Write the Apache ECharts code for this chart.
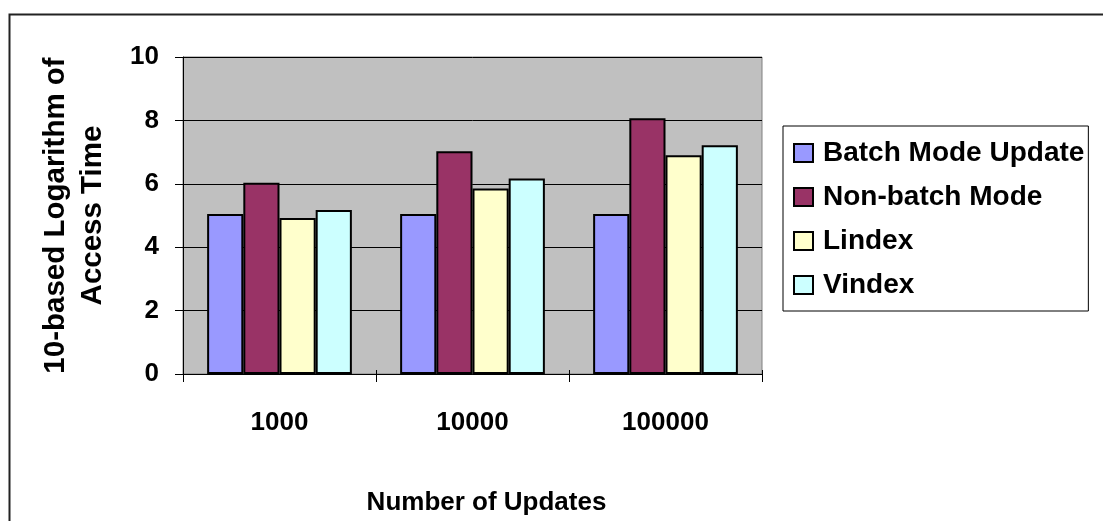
<!DOCTYPE html>
<html>
<head>
<meta charset="utf-8">
<script src="https://cdn.jsdelivr.net/npm/echarts@6/dist/echarts.min.js"></script>
<style>
  html, body { margin: 0; padding: 0; background: #fff; }
  #chart { width: 1103px; height: 521px; }
</style>
</head>
<body>
<div id="chart"></div>
<script>
// Number of updates per run
const categories = ['1000', '10000', '100000'];

// log10 of access time for each method
const batchMode = [5.05, 5.05, 5.05];
const nonBatchMode = [6.03, 7.03, 8.07];
const lindex = [4.92, 5.85, 6.90];
const vindex = [5.17, 6.17, 7.22];

const yTicks = { min: 0, max: 10, interval: 2 };

const FONT = '"Liberation Sans", Arial, sans-serif';

const chart = echarts.init(document.getElementById('chart'), null, { renderer: 'canvas' });

function barSeries(name, data, color) {
  return {
    name: name,
    type: 'bar',
    data: data,
    barGap: '0%',
    barCategoryGap: '25%',
    itemStyle: { color: color, borderColor: '#000', borderWidth: 2 },
    emphasis: { disabled: true }
  };
}

chart.setOption({
  animation: false,
  backgroundColor: '#fff',
  textStyle: { fontFamily: FONT, fontWeight: 'bold', color: '#000' },
  graphic: [{
    type: 'rect',
    left: 7, top: 12,
    shape: { width: 1110, height: 520 },
    style: { fill: 'none', stroke: '#222', lineWidth: 2 },
    silent: true
  }],
  grid: {
    left: 183, right: 341, top: 57, bottom: 147,
    show: true,
    backgroundColor: '#C0C0C0',
    borderColor: '#808080',
    borderWidth: 1
  },
  legend: {
    orient: 'vertical',
    left: 783, top: 126,
    padding: [13, 4, 12, 10],
    icon: 'rect',
    itemWidth: 19, itemHeight: 18,
    itemGap: 16,
    borderColor: '#000', borderWidth: 1,
    backgroundColor: '#fff',
    selectedMode: false,
    textStyle: { fontFamily: FONT, fontWeight: 'bold', fontSize: 28, color: '#000', lineHeight: 28, padding: [0, 0, 0, 5] },
    data: ['Batch Mode Update', 'Non-batch Mode', 'Lindex', 'Vindex']
  },
  xAxis: [{
    type: 'category',
    data: categories,
    name: 'Number of Updates',
    nameLocation: 'middle',
    nameGap: 116,
    nameTextStyle: { fontFamily: FONT, fontWeight: 'bold', fontSize: 26, color: '#000', padding: [0, 0, 0, 28] },
    axisLine: { lineStyle: { color: '#000', width: 1 } },
    axisTick: { show: true, length: 8, lineStyle: { color: '#000' } },
    axisLabel: { margin: 36, fontFamily: FONT, fontWeight: 'bold', fontSize: 26, color: '#000' },
    splitLine: { show: false }
  }, {
    // inner half of the crossing category ticks
    type: 'category',
    data: categories,
    position: 'bottom',
    axisLine: { show: false },
    axisTick: { show: true, inside: true, length: 4, lineStyle: { color: '#000' } },
    axisLabel: { show: false },
    splitLine: { show: false }
  }],
  yAxis: [{
    type: 'value',
    min: yTicks.min, max: yTicks.max, interval: yTicks.interval,
    name: '10-based Logarithm of\nAccess Time',
    nameLocation: 'middle',
    nameRotate: 90,
    nameGap: 72,
    nameTextStyle: { fontFamily: FONT, fontWeight: 'bold', fontSize: 29.5, color: '#000', lineHeight: 37, align: 'center' },
    axisLine: { show: true, lineStyle: { color: '#000', width: 1 } },
    axisTick: { show: true, length: 8, lineStyle: { color: '#000' } },
    axisLabel: { margin: 24, fontFamily: FONT, fontWeight: 'bold', fontSize: 26, color: '#000' },
    splitLine: { show: true, lineStyle: { color: '#000', width: 1 } }
  }, {
    // inner half of the crossing value ticks
    type: 'value',
    position: 'left',
    min: yTicks.min, max: yTicks.max, interval: yTicks.interval,
    axisLine: { show: false },
    axisTick: { show: true, inside: true, length: 4, lineStyle: { color: '#000' } },
    axisLabel: { show: false },
    splitLine: { show: false }
  }],
  series: [
    barSeries('Batch Mode Update', batchMode, '#9999FF'),
    barSeries('Non-batch Mode', nonBatchMode, '#993366'),
    barSeries('Lindex', lindex, '#FFFFCC'),
    barSeries('Vindex', vindex, '#CCFFFF')
  ]
});
</script>
</body>
</html>
